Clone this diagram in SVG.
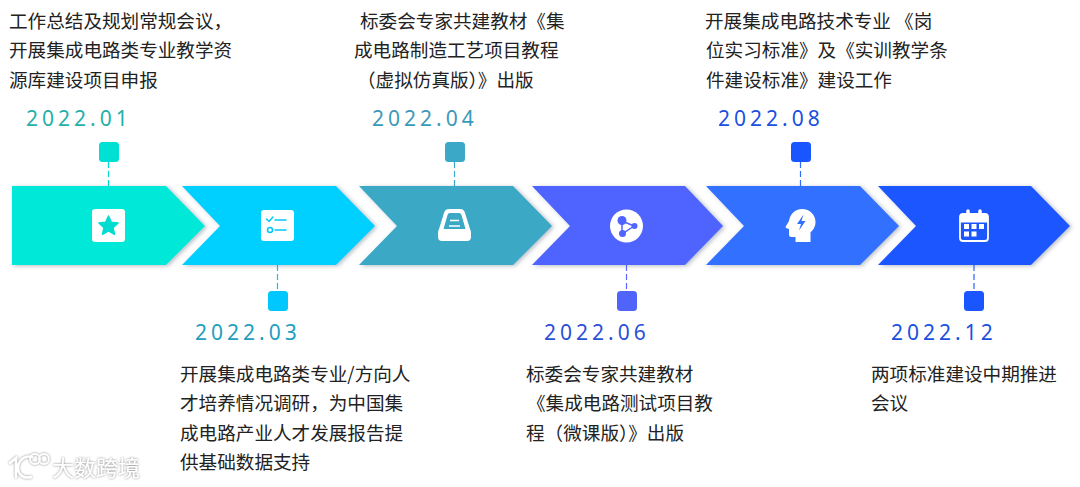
<svg xmlns="http://www.w3.org/2000/svg" width="1080" height="487" viewBox="0 0 1080 487">
<defs>
<filter id="sh" x="-10%" y="-10%" width="125%" height="125%"><feDropShadow dx="2" dy="1" stdDeviation="2" flood-color="#5a6a80" flood-opacity="0.45"/></filter>
<filter id="wm" x="-20%" y="-30%" width="140%" height="160%"><feDropShadow dx="0" dy="0" stdDeviation="1.300" flood-color="#666" flood-opacity="0.85"/></filter>
</defs>
<style>
text{font-family:"Noto Sans CJK SC","Noto Sans",sans-serif}
.t{font-size:18.6px;fill:#222}
.d{font-family:"Noto Sans","Noto Sans CJK SC",sans-serif;font-size:21px;letter-spacing:4px}
.c{stroke-width:1.2;stroke-dasharray:6 3;fill:none}
.w{fill:#fff}
</style>
<g id="connectors">
<path class="c" stroke="#00d8d0" d="M108.500 162V186"/>
<path class="c" stroke="#00c8f8" d="M277.500 265V290"/>
<path class="c" stroke="#3aa8c6" d="M454.500 162V186"/>
<path class="c" stroke="#5a66ff" d="M626.500 265V290"/>
<path class="c" stroke="#2f6cff" d="M800.500 162V186"/>
<path class="c" stroke="#2a62ff" d="M974 265V290"/>
</g>
<g id="node-2022-01">
<polygon points="12,186 166,186 205,226 166,265 12,265" fill="#00e8d8" filter="url(#sh)"/>
<rect x="92" y="209" width="33" height="33" rx="3" class="w"/>
<path d="M108.500 216l2.800 6.300 6.800 .7-5.100 4.600 1.500 6.700-6-3.500-6 3.500 1.500-6.700-5.100-4.600 6.800-.7z" fill="#00dcd0" stroke="#00dcd0" stroke-width="1.500" stroke-linejoin="round"/>
<rect x="99" y="142" width="20" height="20" rx="3.500" fill="#00e0d4"/>
<text class="d" x="26" y="126" fill="#1fb0a8">2022.01</text>
<text class="t"><tspan x="9" y="28">工作总结及规划常规会议，</tspan><tspan x="9" y="57">开展集成电路类专业教学资</tspan><tspan x="9" y="87">源库建设项目申报</tspan></text>
</g>
<g id="node-2022-03">
<polygon points="182,186 336,186 375,226 336,265 182,265 220,226" fill="#00d0ff" filter="url(#sh)"/>
<rect x="261" y="210" width="33" height="31" rx="3" class="w"/>
<path d="M266.500 219l2.500 2.500 4-4.500M275 220h11M275 230h11" fill="none" stroke="#00c8f8" stroke-width="1.500" stroke-linecap="round"/>
<circle cx="270" cy="230" r="2.500" fill="none" stroke="#00c8f8" stroke-width="1.500"/>
<rect x="268" y="291" width="20" height="20" rx="3.500" fill="#00c8ff"/>
<text class="d" x="195" y="340" fill="#1f9ec0">2022.03</text>
<text class="t"><tspan x="180" y="381">开展集成电路类专业/方向人</tspan><tspan x="180" y="410">才培养情况调研，为中国集</tspan><tspan x="180" y="440">成电路产业人才发展报告提</tspan><tspan x="180" y="469">供基础数据支持</tspan></text>
</g>
<g id="node-2022-04">
<polygon points="359,186 513,186 552,226 513,265 359,265 397,226" fill="#3aa8c6" filter="url(#sh)"/>
<path fill-rule="evenodd" class="w" d="M449 209h11q4 0 5 4l5 16q1 2 1 4v4q0 4-4 4h-25q-4 0-4-4v-4q0-2 1-4l5-16q1-4 5-4zM450 213q-2 0-2.500 2l-4 14h22l-4-14q-.5-2-2.500-2z"/>
<path d="M450 220.500h9M449 226h11" stroke="#fff" stroke-width="1.500"/>
<rect x="445" y="142" width="20" height="20" rx="3.500" fill="#3aa8c6"/>
<text class="d" x="372" y="126" fill="#3a9ab8">2022.04</text>
<text class="t"><tspan x="360" y="28">标委会专家共建教材《集</tspan><tspan x="354" y="57">成电路制造工艺项目教程</tspan><tspan x="357" y="87">（虚拟仿真版）》出版</tspan></text>
</g>
<g id="node-2022-06">
<polygon points="532,186 685,186 723,226 685,265 532,265 570,226" fill="#5064ff" filter="url(#sh)"/>
<circle cx="626.500" cy="226" r="16.500" class="w"/>
<path d="M622 221L634 226L622 234Z" fill="none" stroke="#5064ff" stroke-width="1.500"/>
<circle cx="622" cy="220.500" r="4.500" fill="#5064ff"/><circle cx="634.500" cy="226" r="3" fill="#5064ff"/><circle cx="622.500" cy="233.500" r="3.500" fill="#5064ff"/>
<rect x="617" y="291" width="20" height="20" rx="3.500" fill="#5064fa"/>
<text class="d" x="544" y="340" fill="#2a50d8">2022.06</text>
<text class="t"><tspan x="526" y="381">标委会专家共建教材</tspan><tspan x="527" y="410">《集成电路测试项目教</tspan><tspan x="526" y="440">程（微课版）》出版</tspan></text>
</g>
<g id="node-2022-08">
<polygon points="706,186 860,186 899,226 860,265 706,265 744,226" fill="#3370ff" filter="url(#sh)"/>
<path class="w" d="M802 209c8 0 13.500 6 13.500 13 0 5-2.500 8-5 10.500V242h-15v-5h-4q-2.500 0-2.500-2.500V229l-3-1q-.8-.8 0-2l3-5c1-7 6-12 13-12z"/>
<path d="M803.500 214.500L797 224h4l-2 6.500 6.500-9.500h-4z" fill="#3370ff"/>
<rect x="791" y="142" width="20" height="20" rx="3.500" fill="#1a56ff"/>
<text class="d" x="718" y="126" fill="#1a50e0">2022.08</text>
<text class="t"><tspan x="705" y="28">开展集成电路技术专业 《岗</tspan><tspan x="706" y="57">位实习标准》及《实训教学条</tspan><tspan x="706" y="87">件建设标准》建设工作</tspan></text>
</g>
<g id="node-2022-12">
<polygon points="878,186 1031,186 1070,226 1031,265 878,265 916,226" fill="#1a56ff" filter="url(#sh)"/>
<rect x="960" y="214" width="28" height="27" rx="3" fill="none" stroke="#fff" stroke-width="1.800"/>
<path d="M960 222.500v-6q0-2.500 3-2.500h22q3 0 3 2.500v6z" class="w"/>
<path d="M968 211v6M980 211v6" stroke="#fff" stroke-width="3.500" stroke-linecap="round"/>
<path class="w" d="M964 224h5v5h-5zM971.500 224h5v5h-5zM979 224h5v5h-5zM964 231.500h5v5h-5zM971.500 231.500h5v5h-5z"/>
<rect x="964" y="291" width="20" height="20" rx="3.500" fill="#1a56ff"/>
<text class="d" x="891" y="340" fill="#1a50e0">2022.12</text>
<text class="t"><tspan x="871" y="381">两项标准建设中期推进</tspan><tspan x="871" y="410">会议</tspan></text>
</g>
<g filter="url(#wm)">
<path d="M10 463l6-5v19M32 457c-8-2-14 4-14 11s6 11 13 9" fill="none" stroke="#fff" stroke-width="2.500" stroke-linecap="round"/>
<circle cx="35" cy="459" r="5" fill="none" stroke="#fff" stroke-width="1.800"/><circle cx="44" cy="459" r="5" fill="none" stroke="#fff" stroke-width="1.800"/>
<text x="52" y="476" font-size="22" fill="#fff">大数跨境</text>
</g>
</svg>
